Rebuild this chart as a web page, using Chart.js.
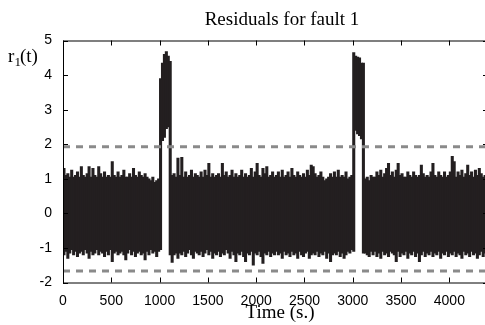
<!DOCTYPE html>
<html>
<head>
<meta charset="utf-8">
<script src="https://cdn.jsdelivr.net/npm/chart.js@4"></script>
<style>
  html, body { margin: 0; padding: 0; background: #fff; overflow: hidden; }
  canvas { display: block; }
</style>
</head>
<body>
<canvas id="residualChart" width="490" height="325"></canvas>
<script>
// residual envelope, one bin every 20 s (bin start = index * 20)
const binSize = 20;
const upperEnvelope = [
  1.3, 1.1, 1.15, 1.05, 1.25, 1.05, 1.1, 1.2, 1.05, 1.35,
  1.1, 1.05, 1.15, 1.35, 1.05, 1.3, 1.1, 1.05, 1.35, 1.15,
  1.05, 1.2, 1.05, 1.1, 1.05, 1.5, 1.1, 1.05, 1.2, 1.05,
  1.1, 1.25, 1.05, 1.05, 1.15, 1.05, 1.3, 1.1, 1.05, 1.2,
  1.1, 1.05, 1.15, 1.05, 1.0, 0.95, 1.05, 0.9, 0.95, 1.0,
  3.9, 4.35, 4.6, 4.68, 4.55, 4.4, 1.1, 1.15, 1.05, 1.6,
  1.1, 1.62, 1.05, 1.2, 1.05, 1.1, 1.25, 1.05, 1.15, 1.1,
  1.05, 1.2, 1.05, 1.25, 1.1, 1.45, 1.05, 1.15, 1.05, 1.1,
  1.15, 1.05, 1.45, 1.1, 1.2, 1.05, 1.1, 1.25, 1.05, 1.15,
  1.05, 1.1, 1.25, 1.05, 1.15, 1.05, 1.1, 1.3, 1.05, 1.2,
  1.45, 1.1, 1.05, 1.3, 1.15, 1.35, 1.05, 1.1, 1.2, 1.05,
  1.1, 1.2, 1.05, 1.25, 1.05, 1.1, 1.2, 1.05, 1.3, 1.1,
  1.05, 1.2, 1.1, 1.05, 1.15, 1.05, 1.25, 1.1, 1.4, 1.35,
  1.15, 1.05, 1.1, 1.2, 1.05, 0.95, 1.0, 1.05, 1.15, 1.05,
  1.2, 1.05, 1.25, 1.05, 1.1, 1.05, 1.2, 1.0, 1.05, 1.1,
  4.65, 4.55, 4.52, 4.5, 4.35, 4.35, 1.0, 1.05, 0.95, 1.1,
  1.05, 1.05, 1.2, 1.1, 1.25, 1.05, 1.15, 1.3, 1.45, 1.1,
  1.2, 1.05, 1.25, 1.45, 1.1, 1.15, 1.05, 1.05, 1.2, 1.1,
  1.05, 1.2, 1.1, 1.05, 1.1, 1.4, 1.15, 1.05, 1.1, 1.05,
  1.2, 1.45, 1.1, 1.05, 1.2, 1.1, 1.05, 1.2, 1.05, 1.1,
  1.2, 1.65, 1.5, 1.05, 1.2, 1.1, 1.25, 1.05, 1.15, 1.4,
  1.1, 1.2, 1.05, 1.25, 1.1, 1.3, 1.15, 1.05, 1.1, 1.2
];
const lowerEnvelope = [
  -1.2, -1.1, -1.3, -1.15, -1.05, -1.2, -1.1, -1.25, -1.15, -1.1,
  -1.2, -1.05, -1.15, -1.3, -1.1, -1.2, -1.15, -1.05, -1.2, -1.1,
  -1.15, -1.25, -1.1, -1.2, -1.05, -1.4, -1.15, -1.1, -1.2, -1.15,
  -1.1, -1.2, -1.35, -1.15, -1.05, -1.2, -1.1, -1.25, -1.15, -1.1,
  -1.2, -1.15, -1.35, -1.1, -1.2, -1.05, -1.15, -1.1, -1.25, -1.1,
  -1.05, 2.1, 2.2, 2.45, 2.5, -1.2, -1.42, -1.2, -1.15, -1.3,
  -1.15, -1.2, -1.1, -1.25, -1.15, -1.05, -1.2, -1.3, -1.1, -1.15,
  -1.2, -1.1, -1.25, -1.15, -1.05, -1.2, -1.1, -1.3, -1.15, -1.2,
  -1.1, -1.25, -1.15, -1.2, -1.05, -1.15, -1.3, -1.1, -1.2, -1.4,
  -1.15, -1.2, -1.1, -1.25, -1.4, -1.15, -1.2, -1.1, -1.5, -1.15,
  -1.2, -1.1, -1.25, -1.45, -1.15, -1.2, -1.1, -1.25, -1.15, -1.2,
  -1.1, -1.2, -1.15, -1.3, -1.1, -1.2, -1.15, -1.25, -1.1, -1.2,
  -1.15, -1.3, -1.1, -1.2, -1.25, -1.15, -1.1, -1.3, -1.2, -1.15,
  -1.2, -1.1, -1.25, -1.15, -1.2, -1.1, -1.3, -1.15, -1.4, -1.2,
  -1.15, -1.2, -1.1, -1.25, -1.15, -1.3, -1.2, -1.1, -1.15, -1.05,
  -1.1, 2.4, 2.3, 2.25, 2.15, -1.15, -1.15, -1.2, -1.25, -1.1,
  -1.2, -1.1, -1.25, -1.15, -1.3, -1.1, -1.2, -1.15, -1.25, -1.1,
  -1.15, -1.2, -1.4, -1.1, -1.25, -1.15, -1.2, -1.1, -1.3, -1.15,
  -1.2, -1.1, -1.25, -1.15, -1.4, -1.2, -1.1, -1.25, -1.15, -1.2,
  -1.1, -1.25, -1.15, -1.2, -1.1, -1.3, -1.15, -1.2, -1.1, -1.25,
  -1.15, -1.2, -1.1, -1.25, -1.15, -1.2, -1.3, -1.1, -1.2, -1.15,
  -1.25, -1.1, -1.2, -1.15, -1.3, -1.2, -1.1, -1.25, -1.15, -1.2
];
const upperThreshold = 1.93;
const lowerThreshold = -1.67;
const xTicks = [0, 500, 1000, 1500, 2000, 2500, 3000, 3500, 4000];
const yTicks = [-2, -1, 0, 1, 2, 3, 4, 5];
const timeMax = 4400;

const noise = upperEnvelope.map((hi, i) => ({ x: i * binSize + binSize / 2, y: [lowerEnvelope[i], hi] }));

const tickFont = { family: "'Liberation Sans', Arial, sans-serif", size: 14 };

// frame with inward ticks plus the serif labels
const framePlugin = {
  id: 'frame',
  afterDraw(chart) {
    const { ctx, chartArea: a, scales } = chart;
    ctx.save();
    ctx.strokeStyle = '#000';
    ctx.lineWidth = 1;
    ctx.strokeRect(a.left + 0.5, a.top + 0.5, a.right - a.left, a.bottom - a.top);
    ctx.beginPath();
    xTicks.forEach(v => {
      const x = Math.round(scales.x.getPixelForValue(v)) + 0.5;
      ctx.moveTo(x, a.bottom); ctx.lineTo(x, a.bottom - 5);
      ctx.moveTo(x, a.top); ctx.lineTo(x, a.top + 5);
    });
    yTicks.forEach(v => {
      const y = Math.round(scales.y.getPixelForValue(v)) + 0.5;
      ctx.moveTo(a.left, y); ctx.lineTo(a.left + 5, y);
      ctx.moveTo(a.right, y); ctx.lineTo(a.right - 5, y);
    });
    ctx.stroke();

    ctx.fillStyle = '#000';
    ctx.font = "19px 'Liberation Serif', 'Times New Roman', serif";
    ctx.textAlign = 'center';
    ctx.textBaseline = 'alphabetic';
    ctx.fillText('Residuals for fault 1', 282, 25);
    ctx.fillText('Time (s.)', 280, 318);

    ctx.textAlign = 'left';
    ctx.font = "19px 'Liberation Serif', 'Times New Roman', serif";
    ctx.fillText('r', 8, 62);
    ctx.font = "13px 'Liberation Serif', 'Times New Roman', serif";
    ctx.fillText('1', 14.5, 66);
    ctx.font = "19px 'Liberation Serif', 'Times New Roman', serif";
    ctx.fillText('(t)', 20, 62);
    ctx.restore();
  }
};

const ctx = document.getElementById('residualChart').getContext('2d');
new Chart(ctx, {
  data: {
    datasets: [
      {
        type: 'bar',
        data: noise,
        backgroundColor: '#231f20',
        borderWidth: 0,
        barThickness: 2.4,
        grouped: false,
        order: 2
      },
      {
        type: 'line',
        data: [{ x: 0, y: upperThreshold }, { x: timeMax, y: upperThreshold }],
        borderColor: '#8a8a8a',
        borderWidth: 3,
        borderDash: [7, 6],
        pointRadius: 0,
        order: 1
      },
      {
        type: 'line',
        data: [{ x: 0, y: lowerThreshold }, { x: timeMax, y: lowerThreshold }],
        borderColor: '#8a8a8a',
        borderWidth: 3,
        borderDash: [7, 6],
        pointRadius: 0,
        order: 1
      }
    ]
  },
  options: {
    responsive: false,
    animation: false,
    layout: { padding: { top: 40.5, right: 2, left: 0, bottom: 0 } },
    plugins: {
      legend: { display: false },
      tooltip: { enabled: false },
      title: { display: false }
    },
    scales: {
      x: {
        type: 'linear',
        min: 0,
        max: timeMax,
        offset: false,
        grid: { display: false },
        border: { display: false },
        afterBuildTicks(scale) { scale.ticks = xTicks.map(v => ({ value: v })); },
        ticks: { color: '#000', font: tickFont, padding: 2, maxRotation: 0, callback: v => String(v) },
        afterFit(scale) { scale.height = 42.5; }
      },
      y: {
        min: -2,
        max: 5,
        grid: { display: false },
        border: { display: false },
        afterBuildTicks(scale) { scale.ticks = yTicks.map(v => ({ value: v })); },
        ticks: { color: '#000', font: tickFont, padding: 3, callback: v => String(v) },
        afterFit(scale) { scale.width = 63; }
      }
    }
  },
  plugins: [framePlugin]
});
</script>
</body>
</html>
